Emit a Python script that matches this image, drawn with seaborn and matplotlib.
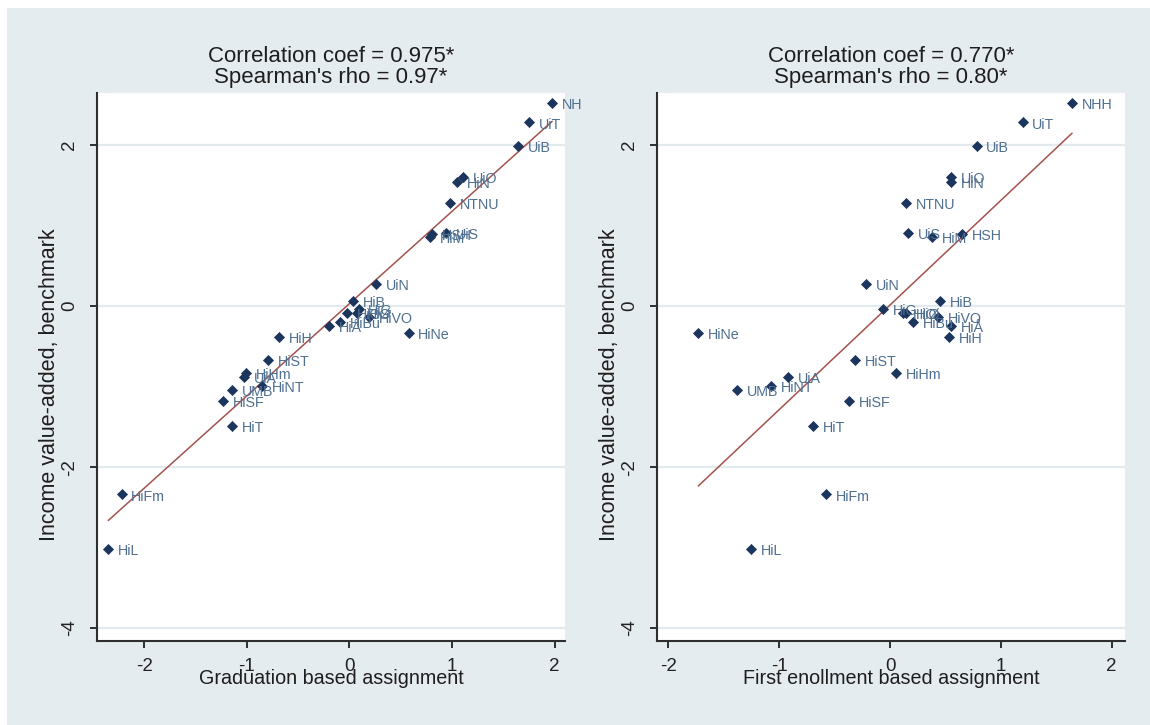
import matplotlib
matplotlib.use("Agg")
import matplotlib.pyplot as plt
from matplotlib.patches import Rectangle
import pandas as pd
import seaborn as sns

# Institutions and their value-added estimates
institutions = ["NHH", "UiT", "UiB", "UiO", "HiN", "NTNU", "HiM", "HSH", "UiS", "UiN",
                "HiB", "HiG", "HiO", "HiØ", "HiVO", "HiBu", "HiÅ", "HiNe", "HiH", "HiST",
                "HiHm", "UiA", "HiNT", "UMB", "HiSF", "HiT", "HiFm", "HiL"]

income_benchmark = [2.52, 2.28, 1.99, 1.60, 1.545, 1.276, 0.86, 0.90, 0.91, 0.28,
                    0.066, -0.041, -0.09, -0.09, -0.14, -0.195, -0.25, -0.33, -0.38, -0.67,
                    -0.83, -0.886, -0.99, -1.04, -1.18, -1.49, -2.34, -3.02]

graduation_based = [1.975, 1.75, 1.646, 1.106, 1.048, 0.982, 0.787, 0.804, 0.943, 0.26,
                    0.033, 0.088, -0.026, 0.072, 0.195, -0.09, -0.195, 0.576, -0.69, -0.79,
                    -1.01, -1.03, -0.855, -1.147, -1.23, -1.147, -2.22, -2.35]

enrollment_based = [1.643, 1.197, 0.782, 0.55, 0.55, 0.144, 0.376, 0.647, 0.165, -0.217,
                    0.451, -0.066, 0.12, 0.144, 0.436, 0.205, 0.55, -1.73, 0.532, -0.313,
                    0.051, -0.923, -1.077, -1.384, -0.37, -0.695, -0.58, -1.255]

panel_titles = ["Correlation coef = 0.975*\nSpearman's rho = 0.97*",
                "Correlation coef = 0.770*\nSpearman's rho = 0.80*"]
x_labels = ["Graduation based assignment", "First enollment based assignment"]
y_label = "Income value-added, benchmark"
x_ticks = [-2, -1, 0, 1, 2]
y_ticks = [2, 0, -2, -4]

df = pd.DataFrame({"name": institutions, "benchmark": income_benchmark,
                   "graduation": graduation_based, "enrollment": enrollment_based})

sns.set_theme(style="white")
plt.rcParams["font.family"] = ["Liberation Sans", "DejaVu Sans"]

BG = "#E5ECF0"
GRID = "#E2EAEE"
NAVY = "#1B355D"
LABEL = "#4E6F90"
FIT = "#A4524D"
AXIS = "#2E2E2E"
TEXT = "#1E1E1E"

W, H = 1150, 725
fig = plt.figure(figsize=(W / 100, H / 100), dpi=100, facecolor=BG)
# thin white margin along the left and top edges
fig.patches.append(Rectangle((0, 0), 7 / W, 1, transform=fig.transFigure,
                             facecolor="white", edgecolor="none"))
fig.patches.append(Rectangle((0, 1 - 8 / H), 1, 8 / H, transform=fig.transFigure,
                             facecolor="white", edgecolor="none"))

panels = [
    dict(col="graduation", left=97, right=565, label_clip=581, xlim=(-2.46, 2.10)),
    dict(col="enrollment", left=657, right=1125, label_clip=1150, xlim=(-2.103, 2.121)),
]
top_px, bottom_px = 93, 641
ax_h = bottom_px - top_px

for i, p in enumerate(panels):
    ax_w = p["right"] - p["left"]
    ax = fig.add_axes([p["left"] / W, 1 - bottom_px / H, ax_w / W, ax_h / H])
    ax.set_facecolor("white")
    ax.set_xlim(*p["xlim"])
    ax.set_ylim(-4.16, 2.646)

    for yv in y_ticks:
        ax.axhline(yv, color=GRID, lw=1.6, zorder=0)

    sns.regplot(data=df, x=p["col"], y="benchmark", scatter=False, ci=None,
                truncate=True, line_kws=dict(color=FIT, lw=1.1, zorder=2), ax=ax)
    sns.scatterplot(data=df, x=p["col"], y="benchmark", marker="D", s=32,
                    color=NAVY, linewidth=0, zorder=3, ax=ax)

    # marker labels are cut off at the edge of the panel's graph area
    clip_rect = Rectangle((p["left"] / W, 0), (p["label_clip"] - p["left"]) / W, 1,
                          transform=fig.transFigure, facecolor="none", edgecolor="none")
    for _, row in df.iterrows():
        t = ax.annotate(row["name"], (row[p["col"]], row["benchmark"]),
                        xytext=(7, -1.5), textcoords="offset points", fontsize=10.3,
                        color=LABEL, va="center", ha="left", zorder=4)
        t.set_clip_on(True)
        t.set_clip_path(clip_rect)

    for side in ["top", "right"]:
        ax.spines[side].set_visible(False)
    for side in ["left", "bottom"]:
        ax.spines[side].set_color(AXIS)
        ax.spines[side].set_linewidth(1.5)

    ax.set_xticks(x_ticks)
    ax.set_xticklabels([str(t) for t in x_ticks])
    ax.set_yticks(y_ticks)
    ax.set_yticklabels([str(t) for t in y_ticks])
    ax.tick_params(axis="both", which="major", direction="out", length=5, width=1.4,
                   color=AXIS, labelsize=13.5, labelcolor="#222222", bottom=True, left=True)
    ax.tick_params(axis="x", pad=7)
    ax.tick_params(axis="y", pad=8.5, labelrotation=90)
    for lbl in ax.get_yticklabels():
        lbl.set_va("center")

    ax.set_xlabel(x_labels[i], fontsize=14.2, color=TEXT)
    ax.xaxis.label.set_va("center")
    ax.xaxis.set_label_coords(0.5, -37 / ax_h)
    ax.set_ylabel(y_label, fontsize=15.5, color=TEXT)
    ax.yaxis.label.set_va("center")
    ax.yaxis.set_label_coords(-47 / ax_w, (bottom_px - 385) / ax_h)

    lines = panel_titles[i].split("\n")
    cx = (p["left"] + p["right"]) / 2 / W
    fig.text(cx, 1 - 57 / H, lines[0], ha="center", va="center", fontsize=16, color=TEXT)
    fig.text(cx, 1 - 77 / H, lines[1], ha="center", va="center", fontsize=16, color=TEXT)

fig.savefig("out.png", dpi=100, facecolor=BG)
